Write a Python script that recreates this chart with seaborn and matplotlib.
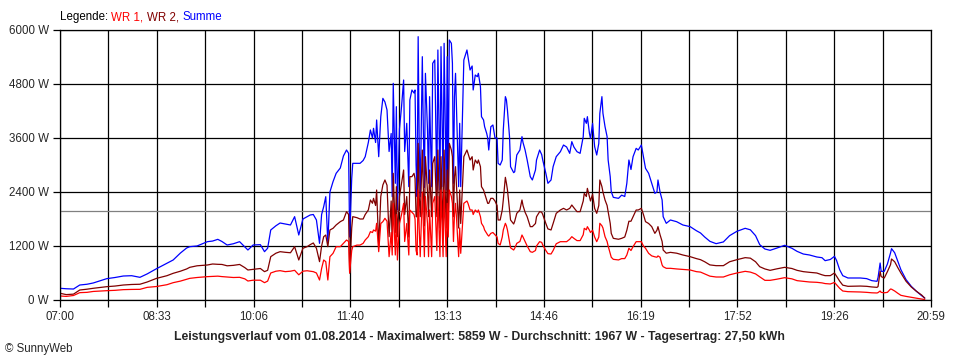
import matplotlib
matplotlib.use('Agg')
import matplotlib.pyplot as plt
import pandas as pd
import seaborn as sns

# minutes after 07:00 and power values in W
minutes = [0, 6, 13, 19, 26, 32, 39, 45, 53, 61, 69, 77, 84, 93, 103, 109, 116, 122, 125, 132,
           142, 147, 152, 156, 161, 167, 173, 178, 181, 186, 193, 197, 200, 203, 208, 212, 217, 222, 226, 230,
           234, 238, 241, 244, 247, 250, 252, 254, 256, 258, 260, 263, 266, 270, 273, 276, 278, 279, 281, 282,
           286, 289, 292, 294, 297, 299, 301, 302, 304, 305, 307, 309, 311, 313, 315, 317, 319, 320, 321, 323,
           324, 325, 327, 329, 331, 332, 334, 336, 337, 339, 341, 342, 343, 344, 345, 346, 347, 349, 350, 351,
           352, 354, 355, 356, 358, 359, 361, 363, 364, 366, 367, 369, 370, 372, 373, 374, 375, 377, 378, 379,
           380, 381, 382, 384, 385, 386, 389, 392, 393, 395, 397, 398, 400, 402, 403, 405, 406, 408, 409, 411,
           412, 413, 415, 417, 419, 421, 422, 424, 426, 427, 429, 430, 431, 433, 434, 437, 438, 440, 443, 445,
           446, 448, 450, 453, 455, 458, 459, 462, 464, 465, 468, 470, 473, 475, 478, 482, 485, 488, 491, 493,
           495, 498, 501, 504, 505, 507, 508, 510, 511, 513, 515, 517, 519, 520, 522, 523, 525, 527, 528, 530,
           531, 533, 538, 541, 544, 546, 548, 550, 552, 555, 557, 560, 562, 564, 567, 570, 573, 575, 576, 578,
           580, 581, 584, 588, 594, 600, 607, 613, 617, 621, 626, 632, 639, 645, 652, 660, 665, 670, 674, 679,
           684, 690, 698, 705, 710, 716, 722, 729, 734, 737, 742, 746, 748, 751, 754, 759, 771, 777, 782, 787,
           788, 790, 791, 794, 797, 800, 801, 804, 807, 810, 815, 820, 825, 830, 833]

wr1 = [89, 80, 100, 163, 170, 190, 200, 207, 215, 230, 235, 237, 281, 300, 340, 385, 420, 460, 481, 500,
       519, 525, 530, 520, 510, 500, 504, 470, 422, 440, 440, 385, 420, 600, 640, 652, 630, 640, 660, 560,
       640, 650, 640, 630, 600, 444, 700, 889, 852, 444, 963, 1037, 1185, 1185, 1259, 1333, 1300, 600, 1100, 1185,
       1220, 1220, 1259, 1333, 1407, 1519, 1500, 1556, 1530, 1704, 1074, 1700, 1741, 1815, 1750, 963, 1500, 1000, 2148, 1000,
       1900, 889, 1700, 1900, 2148, 1300, 1700, 1000, 2000, 1950, 1900, 1800, 1100, 1000, 2444, 1600, 963, 2400, 1700, 963,
       2300, 1700, 963, 2000, 963, 2148, 2300, 1100, 2300, 963, 2444, 963, 2444, 963, 2148, 1400, 2444, 2300, 2148, 1300,
       1900, 2148, 1800, 963, 1600, 1037, 2148, 2200, 2148, 2000, 2000, 1900, 2000, 1950, 2000, 1852, 1704, 1630, 1556, 1481,
       1444, 1420, 1481, 1500, 1450, 1400, 1259, 1222, 1400, 1556, 1704, 1650, 1556, 1300, 1160, 1111, 1150, 1259, 1300, 1444,
       1400, 1300, 1200, 1074, 1060, 1100, 1200, 1296, 1280, 1222, 1100, 1030, 1022, 1100, 1250, 1296, 1296, 1296, 1350, 1407,
       1370, 1320, 1320, 1450, 1593, 1560, 1630, 1550, 1500, 1550, 1400, 1296, 1400, 1704, 1650, 1600, 1407, 1300, 1200, 1037,
       950, 904, 890, 920, 920, 1000, 1150, 1100, 1185, 1296, 1296, 1296, 1200, 1150, 1037, 980, 960, 950, 980, 950,
       778, 740, 704, 704, 690, 680, 667, 630, 620, 580, 530, 511, 511, 560, 600, 637, 620, 580, 515, 437,
       437, 460, 496, 470, 430, 415, 400, 393, 380, 365, 356, 390, 340, 260, 200, 185, 178, 170, 160, 156,
       165, 200, 170, 160, 170, 244, 240, 200, 150, 104, 80, 59, 40, 20, 10]

wr2 = [150, 120, 130, 222, 240, 260, 280, 296, 310, 333, 345, 350, 400, 481, 540, 593, 640, 690, 726, 760,
       778, 800, 793, 790, 760, 770, 790, 720, 667, 680, 700, 630, 660, 963, 1040, 1074, 1060, 1050, 1185, 889,
       1150, 1185, 1230, 1267, 1150, 852, 1200, 1407, 1444, 1185, 1556, 1593, 1667, 1741, 1778, 1963, 1900, 600, 1600, 1852,
       1830, 1800, 1800, 1900, 2000, 2222, 2150, 2259, 2100, 2444, 1185, 2300, 2556, 2667, 2550, 1407, 2200, 1259, 2815, 1500,
       2519, 1407, 2300, 2600, 2889, 1900, 2300, 1400, 2741, 2741, 2815, 2700, 1850, 1852, 3481, 2300, 1852, 3333, 2500, 1650,
       3185, 2400, 1852, 2889, 1852, 3037, 3185, 1852, 3333, 1600, 3185, 1500, 3333, 1600, 2889, 1850, 3481, 3333, 3185, 1852,
       2741, 2963, 2519, 1600, 2444, 1700, 3185, 3333, 3259, 3111, 3185, 2889, 3111, 3037, 3111, 2963, 2519, 2444, 2370, 2222,
       2148, 2148, 2259, 2259, 2200, 2100, 1778, 1778, 2000, 2222, 2726, 2600, 2450, 2000, 1778, 1689, 1750, 1926, 2000, 2222,
       2100, 1950, 1850, 1630, 1630, 1700, 1850, 1963, 1950, 1900, 1700, 1580, 1556, 1700, 1926, 2000, 2037, 2000, 2037, 2111,
       2050, 1963, 1963, 2200, 2370, 2300, 2481, 2300, 2200, 2350, 2037, 1926, 2100, 2667, 2520, 2400, 2222, 2100, 1963, 1704,
       1480, 1370, 1350, 1370, 1400, 1550, 1750, 1750, 1852, 2000, 2000, 2037, 1900, 1741, 1700, 1630, 1481, 1550, 1630, 1450,
       1300, 1111, 1040, 1059, 1040, 1000, 963, 920, 896, 850, 780, 763, 763, 850, 896, 941, 930, 850, 740, 690,
       659, 690, 726, 700, 659, 630, 615, 600, 560, 541, 541, 600, 530, 420, 330, 304, 310, 304, 290, 281,
       300, 637, 520, 489, 630, 785, 911, 850, 720, 600, 415, 289, 193, 110, 40]

summe = [260, 250, 244, 333, 350, 378, 430, 474, 500, 533, 540, 504, 580, 696, 815, 889, 1044, 1156, 1185, 1200,
         1296, 1310, 1348, 1300, 1222, 1250, 1296, 1180, 1111, 1222, 1230, 1074, 1150, 1556, 1650, 1711, 1690, 1667, 1852, 1444,
         1800, 1852, 1889, 1900, 1778, 1259, 1900, 2074, 2296, 1267, 2400, 2630, 2815, 2933, 3200, 3333, 3260, 1400, 2700, 3037,
         3037, 3037, 3100, 3185, 3500, 3778, 3600, 3815, 3500, 4000, 3185, 4074, 4481, 4400, 4222, 3300, 3700, 2296, 4815, 2593,
         4296, 2000, 3800, 4300, 4889, 3300, 3926, 2519, 4444, 4667, 4600, 4667, 3000, 2296, 5852, 3500, 2296, 5407, 3778, 2500,
         5037, 3778, 2593, 4519, 2519, 5259, 5333, 2444, 5556, 2444, 5630, 2519, 5704, 2444, 5407, 2519, 5778, 5704, 5259, 2593,
         4519, 5037, 4222, 2519, 3926, 2519, 5333, 5556, 5407, 5111, 5200, 4667, 5000, 4963, 5037, 4741, 4074, 4000, 3852, 3704,
         3600, 3333, 3850, 3889, 3600, 3600, 3037, 3000, 3111, 3778, 4519, 4450, 4222, 3630, 2963, 2830, 2850, 3222, 3333, 3630,
         3500, 3333, 3111, 2741, 2667, 2889, 3111, 3333, 3230, 3111, 2815, 2593, 2667, 2963, 3185, 3296, 3444, 3400, 3259, 3519,
         3400, 3296, 3259, 3630, 4037, 3926, 4074, 3700, 3593, 3926, 3407, 3222, 3480, 4148, 4519, 4148, 3852, 3630, 3111, 2741,
         2407, 2281, 2259, 2330, 2300, 2593, 3111, 2900, 3185, 3370, 3333, 3444, 3185, 2926, 2815, 2593, 2370, 2400, 2667, 2400,
         2222, 1852, 1704, 1778, 1740, 1667, 1630, 1540, 1489, 1400, 1304, 1252, 1290, 1430, 1526, 1593, 1560, 1430, 1230, 1133,
         1104, 1150, 1215, 1150, 1081, 1022, 1000, 956, 940, 874, 900, 970, 880, 674, 541, 489, 489, 475, 430, 415,
         500, 822, 637, 637, 800, 1044, 1141, 1050, 859, 674, 452, 304, 193, 96, 44]

x_tick_labels = ['07:00', '08:33', '10:06', '11:40', '13:13', '14:46', '16:19', '17:52', '19:26', '20:59']
y_ticks = [0, 1200, 2400, 3600, 4800, 6000]
durchschnitt = 1967
day_minutes = 839

sns.set_style('white')
plt.rcParams['font.family'] = ['Liberation Sans', 'DejaVu Sans']
plt.rcParams['font.size'] = 8

df = pd.DataFrame({'Minute': minutes, 'WR 1': wr1, 'WR 2': wr2, 'Summe': summe})
long_df = df.melt(id_vars='Minute', var_name='Serie', value_name='Leistung')

colors = {'WR 1': '#ff0000', 'WR 2': '#800000', 'Summe': '#0000ff'}

fig = plt.figure(figsize=(9.6, 3.6), dpi=100)
ax = fig.add_axes([60 / 960, 60 / 360, 871 / 960, 270 / 360])

# Summe first, then WR 2, WR 1 on top (as in the original)
sns.lineplot(data=long_df, x='Minute', y='Leistung', hue='Serie',
             hue_order=['Summe', 'WR 2', 'WR 1'], palette=colors,
             linewidth=0.9, estimator=None, legend=False, ax=ax)

ax.axhline(durchschnitt, color='#808080', linewidth=0.9, zorder=1)

ax.set_xlim(0, day_minutes)
ax.set_ylim(0, 6000)
step = day_minutes / (len(x_tick_labels) - 1)
ax.set_xticks([i * step for i in range(len(x_tick_labels))])
ax.set_xticklabels(x_tick_labels)
ax.set_xticks([i * step / 2 for i in range(2 * len(x_tick_labels) - 1)], minor=True)
ax.set_yticks(y_ticks)
ax.set_yticklabels([f'{v} W' for v in y_ticks])
ax.set_xlabel('')
ax.set_ylabel('')

ax.grid(True, which='both', axis='x', color='black', linewidth=0.9)
ax.grid(True, which='major', axis='y', color='black', linewidth=0.9)
ax.set_axisbelow(True)
ax.tick_params(which='both', direction='out', length=5, width=0.9, color='black',
               labelsize=8.3, pad=3, bottom=True, left=True)
for s in ax.spines.values():
    s.set_color('black')
    s.set_linewidth(0.9)

# legend line at the top
t = fig.text(60 / 960, 1 - 17 / 360, 'Legende: ', color='black', fontsize=8.3, va='center')
for name in ['WR 1', 'WR 2', 'Summe']:
    label = name + (', ' if name != 'Summe' else '')
    t = ax.annotate(label, xy=(1, 0), xycoords=t, color=colors[name], fontsize=8.3, va='bottom')

fig.text(0.499, 1 - 337 / 360,
         'Leistungsverlauf vom 01.08.2014 - Maximalwert: 5859 W - Durchschnitt: 1967 W - Tagesertrag: 27,50 kWh',
         ha='center', va='center', fontsize=8.8, fontweight='bold')
fig.text(5 / 960, 1 - 349 / 360, '\u00a9 SunnyWeb', fontsize=8.3, va='center')

fig.savefig('out.png', dpi=100)
